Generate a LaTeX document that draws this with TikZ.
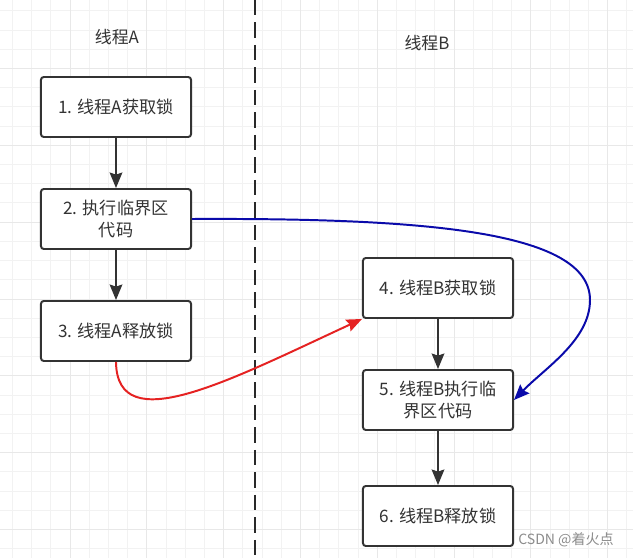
\documentclass[tikz,border=0pt]{standalone}
\usepackage{fontspec}
\setmainfont{Noto Sans CJK SC}
\usepackage{xcolor}
\usepackage{tikz}
\usetikzlibrary{arrows.meta, positioning}

\definecolor{inkgray}{HTML}{333333}
\definecolor{lockblue}{HTML}{0A0AAA}
\definecolor{lockred}{HTML}{E52222}

\begin{document}
\begin{tikzpicture}[x=0.025cm, y=-0.025cm,
  node distance=1.25cm,
  box/.style={rectangle, draw=inkgray, line width=1.4pt, rounded corners=2pt, minimum width=3.75cm, minimum height=1.5cm, font=\fontsize{12.2}{15}\selectfont, text=inkgray, align=center, fill=white},
  arr/.style={-{Stealth[length=11pt, width=9pt, inset=1.5pt]}, line width=1.4pt, draw=inkgray},
  lane/.style={font=\fontsize{12}{15}\selectfont, text=inkgray},
  gridminor/.style={fill=black!5},
  gridmajor/.style={fill=black!9},
]
  \useasboundingbox (0,0) rectangle (633,558);
  \fill[white] (0,0) rectangle (633,558);

  % Grid paper
  \foreach \i in {0,...,32} \fill[gridminor] ({12+19.2*\i},0) rectangle ++(1,558);
  \foreach \j in {0,...,28} \fill[gridminor] (0,{10.5+19.2*\j}) rectangle ++(633,1);
  \foreach \i in {3,7,...,31} \fill[gridmajor] ({12+19.2*\i},0) rectangle ++(1,558);
  \foreach \j in {3,7,...,27} \fill[gridmajor] (0,{10.5+19.2*\j}) rectangle ++(633,1);

  % Lane divider
  \draw[inkgray!80!black, line width=1.8pt, dash pattern=on 11pt off 5pt] (255,0) -- (255,558);

  % Lane titles
  \node[lane] (titleA) at (117,37) {线程A};
  \node[lane] (titleB) at (427,43) {线程B};

  % Thread A
  \node[box] (a1) at (116,107) {1. 线程A获取锁};
  \node[box, below=of a1] (a2) {2. 执行临界区\\代码};
  \node[box, below=of a2] (a3) {3. 线程A释放锁};

  % Thread B
  \node[box] (b4) at (438,288) {4. 线程B获取锁};
  \node[box, below=of b4] (b5) {5. 线程B执行临\\界区代码};
  \node[box, below=1.35cm of b5] (b6) {6. 线程B释放锁};

  % Arrows
  \draw[arr] (a1) -- (a2);
  \draw[arr] (a2) -- (a3);
  \draw[arr] (b4) -- (b5);
  \draw[arr] (b5) -- (b6);

  % Cross-thread arrows
  \draw[arr, draw=lockblue] (a2.east) .. controls (420,218) and (590,230) .. (590,300)
    .. controls (590,340) and (545,368) .. (b5.east);
  \draw[arr, draw=lockred] (a3.south) .. controls (117,440) and (230,380) .. (b4.south west);

  % Watermark
  \node[font=\fontsize{10}{12}\selectfont, text=black!45] (mark) at (566,540) {CSDN @着火点};

\end{tikzpicture}
\end{document}
